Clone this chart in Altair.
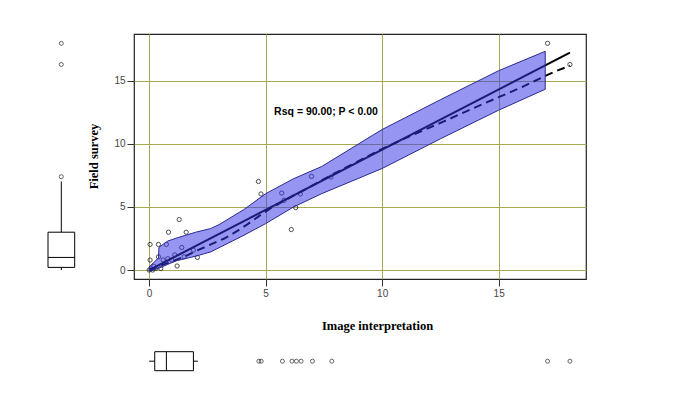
import altair as alt
import pandas as pd

# ---- scatter data (Image interpretation vs Field survey) ----
pt_x = [0.0, 0.04, 0.04, 0.1, 0.15, 0.2, 0.3, 0.4, 0.4, 0.5, 0.6, 0.74, 0.8, 0.83, 0.97, 1.1, 1.2,
        1.29, 1.4, 1.5, 1.59, 1.9, 2.07, 4.69, 4.8, 5.69, 5.79, 6.1, 6.29, 6.49, 6.97, 7.8, 17.1, 18.06]
pt_y = [0.0, 0.79, 2.03, 0.1, 0.0, 0.3, 0.15, 2.03, 1.05, 0.13, 0.8, 2.03, 0.9, 3.0, 0.8, 1.2, 0.32,
        4.0, 1.79, 1.05, 3.0, 1.58, 1.0, 7.02, 6.03, 6.1, 5.53, 3.21, 4.95, 6.03, 7.42, 7.37, 17.97, 16.29]

# ---- fitted regression line ----
fit_x = [0.0, 18.06]
fit_y = [0.0, 17.24]

# ---- smoother (dashed) ----
smooth_x = [0.0, 0.5, 1.0, 1.5, 2.0, 2.65, 3.2, 3.7, 4.2, 4.8, 5.25, 6.0, 7.0, 8.0, 9.0, 10.0,
            11.0, 12.6, 14.0, 15.0, 16.0, 16.9, 17.5, 18.06]
smooth_y = [0.0, 0.35, 0.7, 1.05, 1.5, 2.03, 2.48, 3.0, 3.6, 4.38, 4.94, 5.7, 6.7, 7.7, 8.65, 9.6,
            10.45, 11.74, 12.9, 13.7, 14.5, 15.3, 15.8, 16.2]

# ---- confidence band ----
band_x = [0.0, 0.2, 0.4, 0.42, 0.8, 1.2, 2.0, 2.64, 3.0, 4.07, 5.0, 6.2, 7.4, 10.0, 12.5, 15.0, 17.0]
band_lo = [-0.1, 0.0, 0.15, 0.15, 0.45, 0.75, 1.1, 1.44, 1.77, 2.76, 3.68, 5.0, 6.05, 8.05, 10.4, 12.67, 14.33]
band_hi = [0.25, 0.6, 0.95, 1.8, 2.3, 2.55, 3.0, 3.29, 3.6, 4.8, 6.05, 7.24, 8.2, 11.14, 13.5, 15.8, 17.34]

# ---- marginal boxplot of Field survey (left) ----
ybox_lo, ybox_q1, ybox_med, ybox_q3, ybox_hi = [0.0], [0.21], [1.0], [3.0], [7.02]
ybox_out = [7.4, 16.29, 17.97]

# ---- marginal boxplot of Image interpretation (bottom) ----
xbox_lo, xbox_q1, xbox_med, xbox_q3, xbox_hi = [0.0], [0.24], [0.74], [1.9], [2.09]
xbox_out = [4.71, 4.81, 5.72, 6.13, 6.32, 6.52, 7.01, 7.84, 17.1, 18.06]

# ---- annotation ----
ann_x = [7.59]
ann_y = [12.53]
ann_text = ["Rsq = 90.00; P < 0.00"]

assert len(pt_x) == len(pt_y)

pts = pd.DataFrame({"x": pt_x, "y": pt_y})
fit = pd.DataFrame({"x": fit_x, "y": fit_y})
smooth = pd.DataFrame({"x": smooth_x, "y": smooth_y})
band = pd.DataFrame({"x": band_x, "lo": band_lo, "hi": band_hi})
ybox = pd.DataFrame({"lo": ybox_lo, "q1": ybox_q1, "med": ybox_med, "q3": ybox_q3, "hi": ybox_hi})
yout = pd.DataFrame({"v": ybox_out})
xbox = pd.DataFrame({"lo": xbox_lo, "q1": xbox_q1, "med": xbox_med, "q3": xbox_q3, "hi": xbox_hi})
xout = pd.DataFrame({"v": xbox_out})
ann = pd.DataFrame({"x": ann_x, "y": ann_y, "t": ann_text})

xs = alt.Scale(domain=[-0.65, 18.75], nice=False, zero=False)
ys = alt.Scale(domain=[-0.71, 18.71], nice=False, zero=False)

xaxis = alt.Axis(title="Image interpretation", values=[0, 5, 10, 15], grid=True,
                 titleX=243, titleY=46, titleBaseline="middle", titleAlign="center")
yaxis = alt.Axis(title="Field survey", values=[0, 5, 10, 15], grid=True,
                 titleX=-41, titleY=122, titleBaseline="middle", titleAlign="center", titleAngle=-90)


def X(f):
    return alt.X(f, type="quantitative", scale=xs, axis=xaxis)


def Y(f):
    return alt.Y(f, type="quantitative", scale=ys, axis=yaxis)


points = alt.Chart(pts).mark_point(shape="circle", filled=False, color="black",
                                   size=18, strokeWidth=1).encode(x=X("x"), y=Y("y"))

fit_line = alt.Chart(fit).mark_line(color="black", strokeWidth=2).encode(x=X("x"), y=Y("y"))

smooth_line = alt.Chart(smooth).mark_line(color="black", strokeWidth=2,
                                          strokeDash=[8, 5]).encode(x=X("x"), y=Y("y"))

band_area = alt.Chart(band).mark_area(color="#3535e6", fillOpacity=0.52, stroke="#2a2a90",
                                      strokeWidth=1).encode(x=X("x"), y=Y("lo"), y2="hi")

text = alt.Chart(ann).mark_text(font="Liberation Sans", fontWeight="bold", fontSize=10.5,
                                color="black").encode(x=X("x"), y=Y("y"), text="t:N")

# left boxplot (Field survey)
LX0, LX1, LXC = -86, -59.3, -72.7
yb_whisk = alt.Chart(ybox).mark_rule(color="black", strokeWidth=1).encode(
    x=alt.value(LXC), y=Y("lo"), y2="hi")
yb_box = alt.Chart(ybox).mark_rect(fill="white", stroke="black", strokeWidth=1).encode(
    x=alt.value(LX0), x2=alt.value(LX1), y=Y("q1"), y2="q3")
yb_med = alt.Chart(ybox).mark_rule(color="black", strokeWidth=1).encode(
    x=alt.value(LX0), x2=alt.value(LX1), y=Y("med"))
yb_out = alt.Chart(yout).mark_point(shape="circle", filled=False, color="#222", size=16,
                                    strokeWidth=1).encode(x=alt.value(LXC), y=Y("v"))

# bottom boxplot (Image interpretation)
BY0, BY1, BYC = 317.7, 336.7, 327.2
xb_whisk = alt.Chart(xbox).mark_rule(color="black", strokeWidth=1).encode(
    y=alt.value(BYC), x=X("lo"), x2="hi")
xb_box = alt.Chart(xbox).mark_rect(fill="white", stroke="black", strokeWidth=1).encode(
    y=alt.value(BY0), y2=alt.value(BY1), x=X("q1"), x2="q3")
xb_med = alt.Chart(xbox).mark_rule(color="black", strokeWidth=1).encode(
    y=alt.value(BY0), y2=alt.value(BY1), x=X("med"))
xb_out = alt.Chart(xout).mark_point(shape="circle", filled=False, color="#222", size=16,
                                    strokeWidth=1).encode(y=alt.value(BYC), x=X("v"))

chart = alt.layer(
    points, fit_line, smooth_line, band_area, text,
    yb_whisk, yb_box, yb_med, yb_out,
    xb_whisk, xb_box, xb_med, xb_out,
).properties(
    width=452, height=245,
    autosize=alt.AutoSizeParams(type="none"),
    padding={"left": 126, "top": 26, "right": 80, "bottom": 106},
    background="white",
).configure_view(
    stroke="#222", strokeWidth=1.2
).configure_axis(
    gridColor="#a8a850", gridWidth=1, gridOpacity=1,
    domain=False, tickColor="#333", tickSize=7,
    labelFont="Liberation Sans", labelFontSize=10, labelColor="#444", labelPadding=2,
    titleFont="Liberation Serif", titleFontWeight="bold", titleFontSize=12.5, titleColor="black",
)

chart.save("out.html", embed_options={"renderer": "svg", "actions": False})
